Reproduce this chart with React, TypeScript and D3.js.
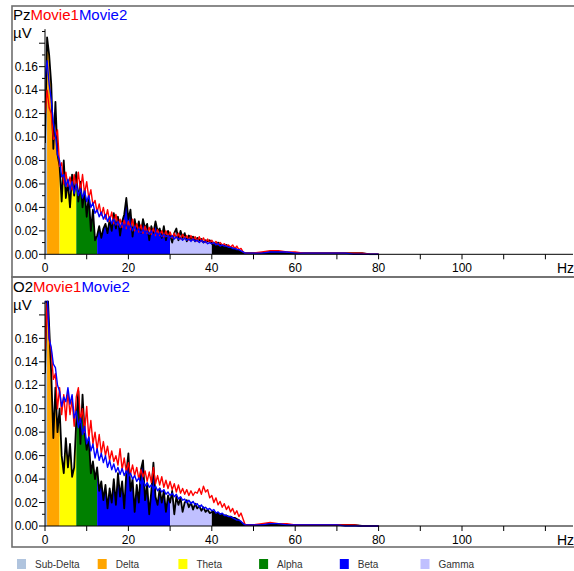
import React from "react";
import * as d3 from "d3";

// frequency grid of the spectra (Hz)
const mainFreqs = d3.range(0, 101).map((i) => i / 2);
const tailFreqs = [52, 54, 56, 58, 60, 62, 64, 66, 68, 70, 72, 74, 76, 78, 80];

// Pz channel (µV)
const pzBase = [
  0.095, 0.185, 0.17, 0.145, 0.09, 0.13, 0.085, 0.075, 0.045, 0.08,
  0.048, 0.062, 0.04, 0.068, 0.05, 0.07, 0.045, 0.062, 0.04, 0.055,
  0.032, 0.05, 0.02, 0.038, 0.012, 0.016, 0.024, 0.014, 0.022, 0.026,
  0.018, 0.03, 0.02, 0.035, 0.022, 0.032, 0.016, 0.028, 0.034, 0.048,
  0.03, 0.038, 0.015, 0.03, 0.02, 0.028, 0.018, 0.03, 0.022, 0.026,
  0.012, 0.024, 0.018, 0.028, 0.02, 0.022, 0.014, 0.024, 0.012, 0.02,
  0.016, 0.01, 0.018, 0.022, 0.012, 0.02, 0.014, 0.018, 0.011, 0.016,
  0.013, 0.015, 0.011, 0.014, 0.012, 0.013, 0.01, 0.012, 0.011, 0.012,
  0.009, 0.01, 0.008, 0.01, 0.008, 0.008, 0.007, 0.008, 0.006, 0.006,
  0.005, 0.005, 0.004, 0.003, 0.002, 0.001, 0.001, 0.001, 0.001, 0.001,
  0.001,
];
const pzMovie1 = [
  0.12, 0.14, 0.125, 0.12, 0.098, 0.1, 0.106, 0.075, 0.078, 0.06,
  0.07, 0.058, 0.066, 0.055, 0.068, 0.056, 0.07, 0.054, 0.068, 0.052,
  0.062, 0.048, 0.055, 0.042, 0.046, 0.036, 0.043, 0.033, 0.04, 0.03,
  0.038, 0.028, 0.036, 0.026, 0.034, 0.025, 0.03, 0.023, 0.029, 0.022,
  0.028, 0.021, 0.03, 0.02, 0.026, 0.019, 0.025, 0.018, 0.024, 0.018,
  0.023, 0.017, 0.022, 0.016, 0.021, 0.016, 0.02, 0.015, 0.02, 0.015,
  0.019, 0.014, 0.018, 0.014, 0.018, 0.013, 0.017, 0.013, 0.016, 0.012,
  0.016, 0.012, 0.015, 0.011, 0.015, 0.011, 0.014, 0.01, 0.013, 0.01,
  0.012, 0.009, 0.011, 0.008, 0.01, 0.008, 0.009, 0.007, 0.008, 0.006,
  0.008, 0.005, 0.007, 0.004, 0.005, 0.002, 0.001, 0.001, 0.001, 0.001,
  0.001,
];
const pzMovie2 = [
  0.15, 0.165, 0.145, 0.132, 0.112, 0.102, 0.085, 0.08, 0.066, 0.068,
  0.058, 0.064, 0.055, 0.062, 0.052, 0.06, 0.05, 0.056, 0.048, 0.054,
  0.045, 0.05, 0.04, 0.044, 0.035, 0.038, 0.032, 0.036, 0.03, 0.034,
  0.028, 0.032, 0.026, 0.03, 0.025, 0.028, 0.023, 0.027, 0.022, 0.026,
  0.021, 0.025, 0.02, 0.024, 0.019, 0.022, 0.018, 0.021, 0.018, 0.02,
  0.017, 0.02, 0.016, 0.019, 0.016, 0.018, 0.015, 0.017, 0.015, 0.016,
  0.014, 0.016, 0.013, 0.015, 0.013, 0.014, 0.012, 0.014, 0.012, 0.013,
  0.011, 0.013, 0.011, 0.012, 0.01, 0.012, 0.01, 0.011, 0.009, 0.01,
  0.009, 0.01, 0.008, 0.009, 0.007, 0.008, 0.007, 0.007, 0.006, 0.006,
  0.005, 0.005, 0.004, 0.004, 0.003, 0.002, 0.001, 0.001, 0.001, 0.001,
  0.001,
];
const pzBaseTail = [0.001, 0.002, 0.002, 0.001, 0.001, 0.001, 0.001, 0.001, 0.001, 0.001, 0.001, 0.001, 0.001, 0, 0];
const pzMovie1Tail = [0.002, 0.003, 0.003, 0.002, 0.002, 0.001, 0.001, 0.001, 0.001, 0.001, 0.001, 0.001, 0.001, 0, 0];
const pzMovie2Tail = [0.001, 0.002, 0.002, 0.002, 0.001, 0.001, 0.001, 0.001, 0.001, 0.001, 0.001, 0, 0, 0, 0];

// O2 channel (µV)
const o2Base = [
  0.13, 0.21, 0.17, 0.13, 0.075, 0.118, 0.08, 0.1, 0.06, 0.045,
  0.075, 0.05, 0.07, 0.042, 0.05, 0.09, 0.115, 0.07, 0.112, 0.08,
  0.065, 0.075, 0.045, 0.055, 0.04, 0.05, 0.03, 0.038, 0.022, 0.035,
  0.015, 0.032, 0.02, 0.04, 0.018, 0.045, 0.025, 0.038, 0.015, 0.045,
  0.062, 0.03, 0.04, 0.012, 0.035, 0.02, 0.048, 0.056, 0.022, 0.035,
  0.01, 0.03, 0.054, 0.025, 0.018, 0.032, 0.02, 0.03, 0.012, 0.026,
  0.02, 0.03, 0.01, 0.025, 0.018, 0.024, 0.012, 0.02, 0.022, 0.016,
  0.02, 0.014, 0.019, 0.015, 0.017, 0.013, 0.016, 0.012, 0.014, 0.011,
  0.012, 0.012, 0.011, 0.011, 0.01, 0.01, 0.009, 0.009, 0.008, 0.008,
  0.007, 0.007, 0.006, 0.005, 0.003, 0.002, 0.001, 0.001, 0.001, 0.001,
  0.001,
];
const o2Movie1 = [
  0.15, 0.19, 0.16, 0.15, 0.125, 0.13, 0.1, 0.118, 0.095, 0.112,
  0.09, 0.115, 0.095, 0.108, 0.085, 0.11, 0.118, 0.09, 0.1, 0.08,
  0.102, 0.075, 0.09, 0.07, 0.08, 0.065, 0.078, 0.062, 0.072, 0.06,
  0.068, 0.056, 0.064, 0.055, 0.06, 0.052, 0.066, 0.048, 0.058, 0.046,
  0.054, 0.044, 0.052, 0.043, 0.05, 0.04, 0.048, 0.042, 0.047, 0.038,
  0.046, 0.037, 0.05, 0.036, 0.043, 0.035, 0.042, 0.033, 0.039, 0.032,
  0.038, 0.031, 0.036, 0.029, 0.035, 0.028, 0.032, 0.027, 0.031, 0.026,
  0.03, 0.026, 0.029, 0.028, 0.032, 0.027, 0.034, 0.029, 0.031, 0.024,
  0.026, 0.02, 0.024, 0.018, 0.021, 0.016, 0.019, 0.014, 0.017, 0.012,
  0.015, 0.01, 0.013, 0.008, 0.011, 0.006, 0.001, 0.001, 0.001, 0.001,
  0.001,
];
const o2Movie2 = [
  0.19, 0.2, 0.16, 0.152, 0.138, 0.135, 0.12, 0.115, 0.102, 0.11,
  0.106, 0.118, 0.104, 0.112, 0.092, 0.098, 0.084, 0.092, 0.078, 0.085,
  0.07, 0.076, 0.064, 0.07, 0.058, 0.066, 0.056, 0.062, 0.054, 0.06,
  0.05, 0.056, 0.048, 0.053, 0.046, 0.05, 0.044, 0.049, 0.043, 0.047,
  0.042, 0.045, 0.04, 0.043, 0.038, 0.041, 0.036, 0.039, 0.034, 0.037,
  0.033, 0.035, 0.031, 0.034, 0.03, 0.032, 0.029, 0.031, 0.027, 0.029,
  0.026, 0.028, 0.025, 0.027, 0.023, 0.025, 0.022, 0.023, 0.02, 0.022,
  0.019, 0.021, 0.018, 0.019, 0.016, 0.018, 0.015, 0.016, 0.014, 0.015,
  0.013, 0.014, 0.011, 0.012, 0.01, 0.011, 0.009, 0.009, 0.008, 0.008,
  0.007, 0.006, 0.005, 0.005, 0.004, 0.002, 0.001, 0.001, 0.001, 0.001,
  0.001,
];
const o2BaseTail = [0.001, 0.002, 0.001, 0.001, 0.001, 0.001, 0.001, 0.001, 0.001, 0.001, 0.001, 0.001, 0, 0, 0];
const o2Movie1Tail = [0.002, 0.003, 0.002, 0.002, 0.001, 0.001, 0.001, 0.001, 0.001, 0.001, 0.001, 0.001, 0, 0, 0];
const o2Movie2Tail = [0.001, 0.002, 0.002, 0.001, 0.001, 0.001, 0.001, 0.001, 0.001, 0.001, 0, 0, 0, 0, 0];

// EEG bands
const bandNames = ["Sub-Delta", "Delta", "Theta", "Alpha", "Beta", "Gamma"];
const bandColors = ["#b0c4de", "#ffa500", "#ffff00", "#008000", "#0000ff", "#c0c0ff"];
const bandEdges = [0, 0.5, 3.5, 7.5, 12.5, 30, 40, 80];
const overColor = "#000000";

const xTickLabels = [0, 20, 40, 60, 80, 100];
const xTickAll = d3.range(0, 13).map((i) => i * 10);
const yTickLabels = ["0.00", "0.02", "0.04", "0.06", "0.08", "0.10", "0.12", "0.14", "0.16"];
const yTickAll = d3.range(0, 20).map((i) => i / 100);

const FONT = "'Liberation Sans', Arial, sans-serif";

type PanelProps = {
  id: string;
  name: string;
  base: number[];
  m1: number[];
  m2: number[];
  baseTail: number[];
  m1Tail: number[];
  m2Tail: number[];
  off: number;
};

const toPoints = (vals: number[], tail: number[]): [number, number][] =>
  mainFreqs.map((f, i) => [f, vals[i]] as [number, number]).concat(
    tailFreqs.map((f, i) => [f, tail[i]] as [number, number])
  );

const Panel = ({ id, name, base, m1, m2, baseTail, m1Tail, m2Tail, off }: PanelProps) => {
  const zeroY = 254.3 + off;
  const x = d3.scaleLinear().domain([0, 100]).range([45, 462]);
  const y = d3.scaleLinear().domain([0, 0.1]).range([zeroY, zeroY - 117.27]);
  const yTop = y(0.192);
  const xEnd = 573;

  const basePts = toPoints(base, baseTail);
  const area = d3
    .area<[number, number]>()
    .x((d) => x(d[0]))
    .y0(y(0))
    .y1((d) => y(d[1]));
  const line = d3
    .line<[number, number]>()
    .x((d) => x(d[0]))
    .y((d) => y(d[1]));

  const fills = bandEdges.slice(0, -1).map((lo, i) => {
    const hi = bandEdges[i + 1];
    const color = i < bandColors.length ? bandColors[i] : overColor;
    return (
      <g key={i}>
        <clipPath id={`${id}-band-${i}`}>
          <rect x={x(lo)} y={yTop} width={x(hi) - x(lo)} height={zeroY - yTop} />
        </clipPath>
        <path d={area(basePts) || ""} fill={color} clipPath={`url(#${id}-band-${i})`} />
      </g>
    );
  });

  return (
    <g>
      <text x={13} y={20 + off} fontSize={15} fontFamily={FONT}>
        <tspan fill="#000">{name}</tspan>
        <tspan fill="#ff0000">Movie1</tspan>
        <tspan fill="#0000ff">Movie2</tspan>
      </text>
      <text x={13} y={38 + off} fontSize={15} fontFamily={FONT} fill="#000">
        µV
      </text>

      <clipPath id={`${id}-plot`}>
        <rect x={45} y={yTop} width={xEnd - 45} height={zeroY - yTop + 1} />
      </clipPath>
      <g clipPath={`url(#${id}-plot)`}>
        {fills}
        <path d={line(basePts) || ""} fill="none" stroke="#000" strokeWidth={1.8} strokeLinejoin="round" />
        <path d={line(toPoints(m1, m1Tail)) || ""} fill="none" stroke="#ff0000" strokeWidth={1.4} strokeLinejoin="round" />
        <path d={line(toPoints(m2, m2Tail)) || ""} fill="none" stroke="#0000ff" strokeWidth={1.4} strokeLinejoin="round" />
      </g>

      {/* y axis */}
      <line x1={45} x2={45} y1={yTop} y2={zeroY} stroke="#000" />
      {yTickAll.map((t, i) => (
        <line key={i} x1={i % 2 === 0 ? 39 : 42} x2={45} y1={y(t)} y2={y(t)} stroke="#000" />
      ))}
      {yTickLabels.map((t) => (
        <text key={t} x={38} y={y(+t)} dy="0.35em" textAnchor="end" fontSize={12} fontFamily={FONT} fill="#000">
          {t}
        </text>
      ))}

      {/* x axis */}
      <line x1={45} x2={xEnd} y1={zeroY} y2={zeroY} stroke="#000" />
      {xTickAll.map((t) => (
        <line key={t} x1={x(t)} x2={x(t)} y1={zeroY} y2={zeroY + 5} stroke="#000" />
      ))}
      {xTickLabels.map((t) => (
        <text key={t} x={x(t)} y={zeroY + 18} textAnchor="middle" fontSize={12} fontFamily={FONT} fill="#000">
          {t}
        </text>
      ))}
      <text x={557} y={zeroY + 19} fontSize={14} fontFamily={FONT} fill="#000">
        Hz
      </text>
    </g>
  );
};

const App = () => {
  return (
    <svg
      width={574}
      height={571}
      viewBox="0 0 574 571"
      style={{ position: "absolute", left: 0, top: 0, background: "#fff" }}
    >
      <rect x={0} y={0} width={574} height={571} fill="#fff" />
      <Panel id="pz" name="Pz" base={pzBase} m1={pzMovie1} m2={pzMovie2}
        baseTail={pzBaseTail} m1Tail={pzMovie1Tail} m2Tail={pzMovie2Tail} off={0} />
      <Panel id="o2" name="O2" base={o2Base} m1={o2Movie1} m2={o2Movie2}
        baseTail={o2BaseTail} m1Tail={o2Movie1Tail} m2Tail={o2Movie2Tail} off={271.7} />

      {/* panel frames */}
      <rect x={12} y={6} width={564} height={271} fill="none" stroke="#6e6e6e" strokeWidth={1.6} />
      <rect x={12} y={277} width={564} height={270} fill="none" stroke="#6e6e6e" strokeWidth={1.6} />

      {/* legend */}
      {bandNames.map((b, i) => (
        <g key={b} transform={`translate(${17 + i * 80.7},559)`}>
          <rect x={0} y={0} width={9} height={10} fill={bandColors[i]} />
          <text x={18} y={5} dy="0.35em" fontSize={10} fontFamily={FONT} fill="#333">
            {b}
          </text>
        </g>
      ))}
    </svg>
  );
};

export default App;
